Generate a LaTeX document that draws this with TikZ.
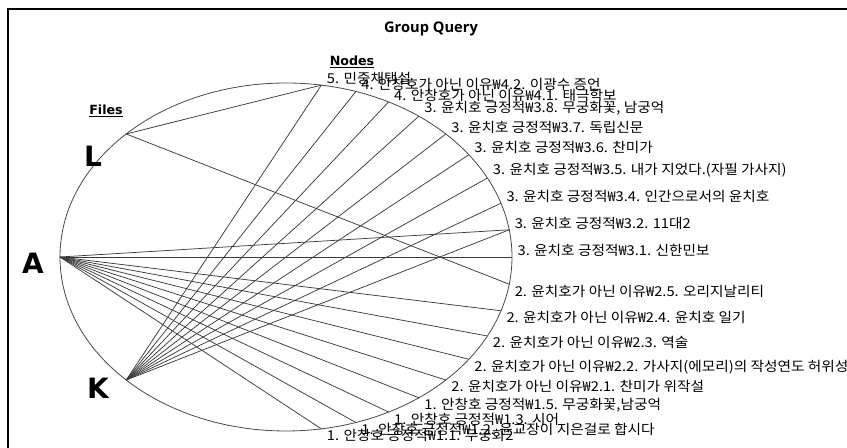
\documentclass[tikz,border=0pt]{standalone}
\usepackage{fontspec}
\setmainfont{DejaVu Sans}
\newfontfamily\krfont[FakeStretch=1.08]{Noto Sans CJK KR}
\newfontfamily\ttlfont{Open Sans}
\definecolor{edgecol}{HTML}{3A3A3A}
\definecolor{rimcol}{HTML}{4A4A4A}
\tikzset{
  lbl/.style={font=\krfont\fontsize{10.2}{11}\selectfont, inner xsep=4pt, inner ysep=0.3pt, text=black},
  uplbl/.style={lbl, anchor=south west},
  lolbl/.style={lbl, anchor=north west},
  edge/.style={draw=edgecol, line width=0.55pt},
  filelet/.style={font=\bfseries\fontsize{21}{22}\selectfont},
  head/.style={font=\bfseries\fontsize{9.5}{11}\selectfont},
}
\begin{document}
\begin{tikzpicture}[x=0.75pt,y=-0.75pt]
\useasboundingbox (0,0) rectangle (847,448);
\clip (0,0) rectangle (847,448);
\fill[white] (0,0) rectangle (847,448);
\draw[line width=0.9pt, black] (8,470) -- (8,9) -- (870,9);
\node[font=\ttlfont\bfseries\fontsize{11}{13}\selectfont] (title) at (431,29) {Group Query};
\node[head] (nodeshead) at (352,62) {\underline{Nodes}};
\node[head] (fileshead) at (106,111) {\underline{Files}};
\draw[draw=rimcol, line width=0.6pt] (286,257) ellipse [x radius=169.5pt, y radius=130.5pt];
% points on the ring
\foreach \nm/\ang in {L/135, A/180, K/225, n5/81, n42/72, n41/63, n38/54, n37/45, n36/36, n35/27, n34/18, n32/9, n31/0, n25/-9, n24/-18, n23/-27, n22/-36, n21/-45, n15/-54, n13/-63, n12/-72, n11/-81}
  \coordinate (\nm) at ({286+226*cos(\ang)},{257-174*sin(\ang)});
\node[filelet] (Ltxt) at (93,156) {L};
\node[filelet] (Atxt) at (33,263) {A};
\node[filelet] (Ktxt) at (98,388) {K};
% edges
\foreach \t in {n5,n25} \draw[edge] (L) -- (\t);
\foreach \t in {n32,n31,n24,n23,n22,n21,n15,n13,n12,n11} \draw[edge] (A) -- (\t);
\foreach \t in {n5,n42,n41,n38,n37,n36,n35,n34,n32} \draw[edge] (K) -- (\t);
% labels
\node[uplbl] (l5)  at (n5)  {5. 민중채택설};
\node[uplbl] (l42) at (n42) {4. 안창호가 아닌 이유₩4.2. 이광수 증언};
\node[uplbl] (l41) at (n41) {4. 안창호가 아닌 이유₩4.1. 태극학보};
\node[uplbl] (l38) at (n38) {3. 윤치호 긍정적₩3.8. 무궁화꽃, 남궁억};
\node[uplbl] (l37) at (n37) {3. 윤치호 긍정적₩3.7. 독립신문};
\node[uplbl] (l36) at (n36) {3. 윤치호 긍정적₩3.6. 찬미가};
\node[uplbl] (l35) at (n35) {3. 윤치호 긍정적₩3.5. 내가 지었다.(자필 가사지)};
\node[uplbl] (l34) at (n34) {3. 윤치호 긍정적₩3.4. 인간으로서의 윤치호};
\node[uplbl] (l32) at (n32) {3. 윤치호 긍정적₩3.2. 11대2};
\node[uplbl] (l31) at (n31) {3. 윤치호 긍정적₩3.1. 신한민보};
\node[lolbl] (l25) at (n25) {2. 윤치호가 아닌 이유₩2.5. 오리지날리티};
\node[lolbl] (l24) at (n24) {2. 윤치호가 아닌 이유₩2.4. 윤치호 일기};
\node[lolbl] (l23) at (n23) {2. 윤치호가 아닌 이유₩2.3. 역술};
\node[lolbl] (l22) at (n22) {2. 윤치호가 아닌 이유₩2.2. 가사지(에모리)의 작성연도 허위성};
\node[lolbl] (l21) at (n21) {2. 윤치호가 아닌 이유₩2.1. 찬미가 위작설};
\node[lolbl] (l15) at (n15) {1. 안창호 긍정적₩1.5. 무궁화꽃,남궁억};
\node[lolbl] (l13) at (n13) {1. 안창호 긍정적₩1.3. 시어};
\node[lolbl] (l12) at (n12) {1. 안창호 긍정적₩1.2. 윤교장이 지은걸로 합시다};
\node[lolbl] (l11) at (n11) {1. 안창호 긍정적₩1.1. 무궁화2};
\end{tikzpicture}
\end{document}
